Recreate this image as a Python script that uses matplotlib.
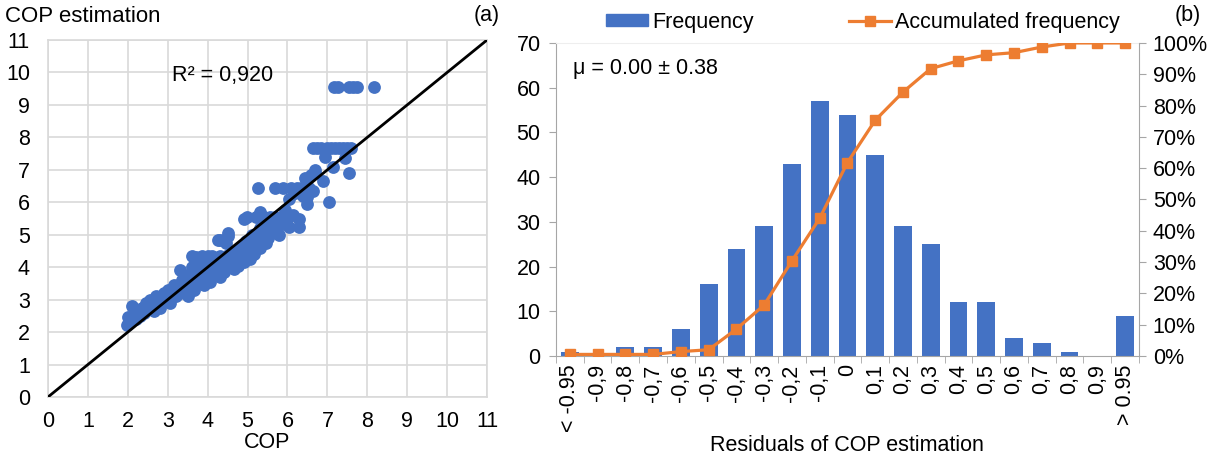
import matplotlib.pyplot as plt
import matplotlib.lines as mlines
import matplotlib.patches as mpatches
import numpy as np

plt.rcParams['font.family'] = ['Liberation Sans', 'DejaVu Sans']

BLUE = '#4472C4'
ORANGE = '#ED7D31'
GRID = '#D9D9D9'
AXIS = '#A6A6A6'

# --- (a) COP vs estimation ---
cop = [1.98, 2.0, 2.05, 2.1, 2.15, 2.2, 2.25, 2.3, 2.35, 2.4, 2.45, 2.5, 2.55, 2.6, 2.65,
       2.7, 2.75, 2.8, 2.85, 2.9, 2.95, 3.0, 3.0, 3.05, 3.1, 3.15, 3.2, 3.25, 3.3, 3.3,
       3.35, 3.4, 3.45, 3.5, 3.5, 3.55, 3.6, 3.6, 3.6, 3.65, 3.7, 3.7, 3.75, 3.8, 3.8,
       3.85, 3.9, 3.9, 3.95, 4.0, 4.0, 4.05, 4.1, 4.1, 4.15, 4.2, 4.25, 4.25, 4.3, 4.3,
       4.31, 4.35, 4.4, 4.45, 4.45, 4.45, 4.5, 4.5, 4.52, 4.55, 4.6, 4.65, 4.7, 4.7, 4.75,
       4.8, 4.85, 4.9, 4.95, 4.9, 4.98, 5.0, 5.05, 5.1, 5.1, 5.15, 5.2, 5.2, 5.25, 5.3,
       5.3, 5.31, 5.35, 5.4, 5.45, 5.5, 5.5, 5.55, 5.6, 5.65, 5.7, 5.7, 5.75, 5.8, 5.85,
       5.9, 5.9, 5.95, 6.0, 6.05, 6.05, 6.1, 6.15, 6.2, 6.25, 6.3, 6.3, 6.35, 6.4, 6.45,
       6.5, 6.5, 6.55, 6.6, 6.65, 6.7, 6.7, 6.65, 6.75, 6.85, 6.9, 6.95, 7.0, 7.05, 7.1,
       7.15, 7.2, 7.3, 7.4, 7.45, 7.5, 7.55, 7.6,
       7.17, 7.27, 7.55, 7.65, 7.75, 8.18]
cop_est = [2.22, 2.45, 2.3, 2.8, 2.55, 2.4, 2.65, 2.5, 2.75, 2.6, 2.9, 2.7, 3.0, 2.8, 2.65,
           3.1, 2.9, 2.75, 3.05, 3.2, 2.95, 3.3, 3.05, 2.9, 3.25, 3.45, 3.1, 3.35, 3.9, 3.2,
           3.6, 3.35, 3.5, 3.75, 3.1, 3.4, 4.0, 3.6, 4.35, 3.3, 4.3, 3.8, 3.5, 4.1, 3.65,
           4.35, 3.9, 3.45, 4.2, 4.35, 3.75, 3.55, 4.0, 4.35, 3.8, 4.2, 3.95, 4.85, 4.35, 3.7,
           4.84, 4.1, 3.85, 4.3, 4.75, 4.35, 4.0, 4.95, 5.04, 4.4, 4.15, 3.95, 4.5, 4.25, 4.05,
           4.6, 4.35, 4.15, 4.8, 5.5, 5.56, 4.5, 4.25, 4.7, 5.0, 4.4, 5.55, 4.85, 6.45, 4.6,
           5.2, 5.71, 4.95, 5.55, 4.75, 5.25, 4.9, 5.55, 5.05, 5.4, 6.45, 5.55, 5.15, 5.0, 5.55,
           5.35, 6.45, 5.75, 5.5, 6.1, 5.25, 6.45, 5.6, 6.3, 6.45, 5.5, 5.25, 6.45, 6.2, 6.75,
           5.95, 6.15, 6.45, 6.85, 6.35, 7.0, 6.9, 7.67, 7.67, 7.67, 6.65, 7.4, 7.67, 6.0, 7.67,
           7.1, 7.67, 7.67, 7.67, 7.35, 7.67, 6.9, 7.67,
           9.55, 9.55, 9.55, 9.55, 9.55, 9.55]
r2_text = 'R² = 0,920'

# --- (b) residual histogram ---
res_labels = ['< -0.95', '-0,9', '-0,8', '-0,7', '-0,6', '-0,5', '-0,4', '-0,3', '-0,2', '-0,1',
              '0', '0,1', '0,2', '0,3', '0,4', '0,5', '0,6', '0,7', '0,8', '0,9', '> 0.95']
frequency = [1, 0, 2, 2, 6, 16, 24, 29, 43, 57, 54, 45, 29, 25, 12, 12, 4, 3, 1, 0, 9]
accum_pct = [0.5, 0.5, 0.5, 0.5, 1.4, 2.0, 8.6, 16.3, 30.4, 44.0, 61.8, 75.3, 84.3, 91.8,
             94.3, 96.2, 96.9, 98.7, 100, 100, 100]
mu_text = 'μ = 0.00 ± 0.38'

FS = 15.5

fig = plt.figure(figsize=(12.24, 4.61), dpi=100)

# ---------------- (a) ----------------
ax1 = fig.add_axes([0.0392, 0.1388, 0.3587, 0.7744])
ax1.scatter(cop, cop_est, s=85, color=BLUE, zorder=2, linewidths=0)
ax1.plot([0, 11], [0, 11], color='black', linewidth=2, zorder=3)
ax1.set_xlim(0, 11)
ax1.set_ylim(0, 11)
ax1.set_xticks(range(12))
ax1.set_yticks(range(12))
ax1.grid(True, color=GRID, linewidth=1.2, zorder=0)
ax1.set_axisbelow(True)
for s in ax1.spines.values():
    s.set_color(GRID)
    s.set_linewidth(1.2)
ax1.tick_params(length=0, labelsize=FS)
ax1.tick_params(axis='y', pad=13)
ax1.tick_params(axis='x', pad=10)
ax1.set_xlabel('COP', fontsize=FS, labelpad=0)
ax1.text(3.1, 9.9, r2_text, fontsize=FS, va='center', ha='left')
fig.text(5 / 1224, 1 - 17 / 461, 'COP estimation', fontsize=16, va='center', ha='left')
fig.text(487 / 1224, 1 - 15 / 461, '(a)', fontsize=FS, va='center', ha='center')

# ---------------- (b) ----------------
ax2 = fig.add_axes([0.4542, 0.2278, 0.4763, 0.679])
x = np.arange(len(res_labels))
ax2.bar(x, frequency, width=0.64, color=BLUE, zorder=2)
ax2.set_xlim(-0.5, len(res_labels) - 0.5)
ax2.set_ylim(0, 70)
ax2.set_yticks(range(0, 71, 10))
ax2.set_xticks(x)
ax2.set_xticklabels(res_labels, rotation=90, fontsize=FS)
ax2.set_xticks(np.arange(-0.5, len(res_labels), 1), minor=True)
ax2.tick_params(axis='x', which='major', length=0, pad=6)
ax2.tick_params(axis='x', which='minor', length=5, color=AXIS, direction='out')
ax2.tick_params(axis='y', length=5, color=AXIS, pad=6, labelsize=FS)
ax2.spines['top'].set_color('#EEEEEE')
ax2.spines['right'].set_visible(False)
ax2.spines['left'].set_color(AXIS)
ax2.spines['bottom'].set_color(AXIS)
ax2.set_xlabel('Residuals of COP estimation', fontsize=FS, labelpad=2)
ax2.text(0.03, 0.92, mu_text, transform=ax2.transAxes, fontsize=FS, va='center', ha='left')

ax3 = ax2.twinx()
ax3.plot(x, accum_pct, color=ORANGE, linewidth=2.3, marker='s', markersize=7.5, zorder=3)
ax3.set_ylim(0, 100)
ax3.set_yticks(range(0, 101, 10))
ax3.set_yticklabels([f'{v}%' for v in range(0, 101, 10)])
ax3.tick_params(axis='y', length=5, color=AXIS, pad=5, labelsize=FS)
for side in ['top', 'left', 'bottom']:
    ax3.spines[side].set_visible(False)
ax3.spines['right'].set_color(AXIS)

h_freq = mpatches.Patch(color=BLUE, label='Frequency')
h_acc = mlines.Line2D([], [], color=ORANGE, linewidth=2.3, marker='s', markersize=7.5,
                      label='Accumulated frequency')
fig.legend(handles=[h_freq, h_acc], loc='center', bbox_to_anchor=(0.705, 0.952), ncol=2,
           frameon=False, fontsize=FS, columnspacing=4.4, handlelength=1.95,
           handletextpad=0.2, handleheight=0.55)
fig.text(1188 / 1224, 1 - 15 / 461, '(b)', fontsize=FS, va='center', ha='center')

plt.savefig('out.png', dpi=100)
